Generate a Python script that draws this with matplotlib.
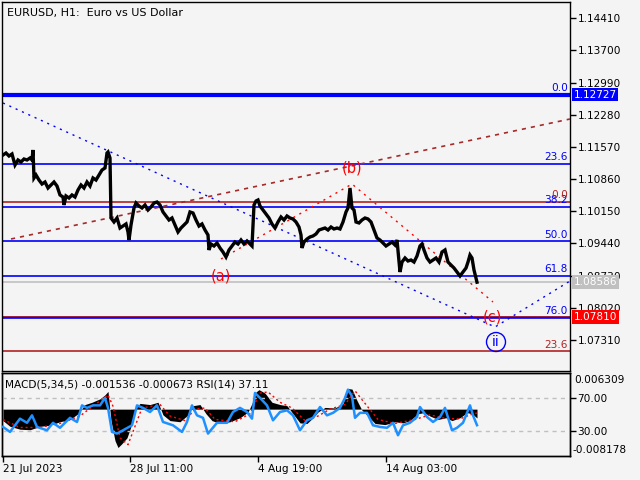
import matplotlib
matplotlib.use("Agg")
import matplotlib.pyplot as plt
import matplotlib.transforms as mtransforms

# ---------------- data ----------------
price_bars = [0, 3, 6, 9, 12, 15, 18, 21, 24, 27, 29, 30, 31, 33, 36, 39, 42, 45, 48, 51, 54, 57, 60, 61, 63, 66, 69, 72,
              75, 78, 81, 84, 87, 90, 93, 96, 99, 102, 104, 105, 107, 108, 111, 114, 117, 120, 123, 125, 126, 128, 131,
              133, 136, 139, 142, 145, 148, 151, 154, 157, 160, 163, 166, 169, 172, 175, 178, 181, 184, 187, 190, 193,
              196, 199, 202, 205, 206, 208, 211, 214, 217, 220, 223, 226, 229, 232, 235, 238, 241, 244, 247, 249, 251,
              253, 255, 257, 260, 263, 266, 269, 272, 275, 278, 281, 284, 287, 290, 293, 296, 298, 299, 301, 304, 307,
              310, 313, 316, 319, 322, 325, 328, 331, 334, 337, 340, 343, 345, 347, 349, 351, 353, 356, 359, 362, 365,
              368, 371, 374, 377, 380, 383, 386, 389, 392, 394, 396, 397, 399, 402, 405, 408, 411, 414, 417, 419, 421,
              424, 427, 430, 433, 436, 439, 442, 445, 448, 451, 454, 457, 460, 463, 465, 467, 469, 471, 474]
price_close = [1.11393, 1.11437, 1.11371, 1.11415, 1.11172, 1.11283, 1.11239, 1.11305, 1.11283, 1.11327, 1.11283,
               1.11504, 1.10886, 1.10952, 1.10841, 1.10753, 1.10797, 1.10665, 1.10731, 1.10797, 1.10709, 1.10511,
               1.10466, 1.10290, 1.10489, 1.10444, 1.10511, 1.10466, 1.10621, 1.10731, 1.10665, 1.10797, 1.10709,
               1.10886, 1.10841, 1.10952, 1.11062, 1.11106, 1.11437, 1.11459, 1.11327, 1.10003, 1.09915, 1.10003,
               1.09782, 1.09826, 1.09871, 1.09694, 1.09517, 1.09849, 1.10224, 1.10334, 1.10268, 1.10224, 1.10290,
               1.10180, 1.10246, 1.10334, 1.10356, 1.10290, 1.10136, 1.10047, 1.09959, 1.10003, 1.09849, 1.09694,
               1.09782, 1.09849, 1.09915, 1.10136, 1.10113, 1.09959, 1.09826, 1.09871, 1.09738, 1.09628, 1.09297,
               1.09429, 1.09385, 1.09451, 1.09341, 1.09252, 1.09142, 1.09297, 1.09385, 1.09473, 1.09429, 1.09517,
               1.09429, 1.09495, 1.09429, 1.09385, 1.10290, 1.10378, 1.10400, 1.10268, 1.10180, 1.10091, 1.10003,
               1.09871, 1.09782, 1.09915, 1.10025, 1.09959, 1.10047, 1.10003, 1.09981, 1.09915, 1.09804, 1.09628,
               1.09341, 1.09473, 1.09539, 1.09584, 1.09606, 1.09650, 1.09738, 1.09760, 1.09782, 1.09738, 1.09804,
               1.09760, 1.09782, 1.09760, 1.09915, 1.10136, 1.10224, 1.10665, 1.10224, 1.10180, 1.09915, 1.09893,
               1.09959, 1.10003, 1.09981, 1.09915, 1.09738, 1.09562, 1.09517, 1.09451, 1.09385, 1.09429, 1.09473,
               1.09407, 1.09517, 1.09031, 1.08811, 1.09031, 1.09120, 1.09054, 1.09076, 1.09031, 1.09164, 1.09385,
               1.09429, 1.09297, 1.09120, 1.09031, 1.09076, 1.09120, 1.09031, 1.09252, 1.09297, 1.09031, 1.08965,
               1.08899, 1.08811, 1.08723, 1.08811, 1.08899, 1.09031, 1.09186, 1.09120, 1.08855, 1.08586]

price_ticks = [1.14410, 1.13700, 1.12990, 1.12280, 1.11570, 1.10860, 1.10150, 1.09440, 1.08730, 1.08020, 1.07310]

blue_fib_names = ["0.0", "23.6", "38.2", "50.0", "61.8", "76.0"]
blue_fib_prices = [1.12727, 1.11200, 1.10255, 1.09492, 1.08729, 1.07810]
red_fib_names = ["0.0", "23.6"]
red_fib_prices = [1.10365, 1.07068]
red_level_price = 1.07810
current_price = 1.08586

wave_blue_bars = [0, 492, 567]
wave_blue_prices = [1.12541, 1.07597, 1.08612]
trend_bars = [8, 567]
trend_prices = [1.09539, 1.12188]
wave_red_bars = [218, 349, 490]
wave_red_prices = [1.09098, 1.10753, 1.08149]
wave_labels = ["(a)", "(b)", "(c)"]
wave_label_bars = [218, 349, 489]
wave_label_prices = [1.08723, 1.11106, 1.07818]
ii_bar, ii_price = 493, 1.07266

macd_bars = [0, 7, 17, 27, 37, 47, 57, 67, 75, 82, 89, 97, 102, 105, 108, 112, 115, 119, 124, 128, 132, 137, 147, 155,
             160, 167, 177, 185, 190, 197, 203, 209, 217, 227, 237, 245, 249, 253, 256, 262, 269, 277, 284, 290, 297,
             304, 310, 315, 322, 332, 340, 345, 349, 354, 359, 365, 372, 382, 392, 400, 407, 415, 421, 427, 435, 443,
             449, 457, 464, 469, 474]
macd_main = [-0.0020, -0.0030, -0.0035, -0.0036, -0.0030, -0.0028, -0.0022, -0.0018, -0.0008, 0.0008, 0.0012, 0.0018,
             0.0025, 0.0031, -0.0020, -0.0055, -0.0067, -0.0060, -0.0050, -0.0030, 0.0000, 0.0010, 0.0008, 0.0012,
             -0.0010, -0.0020, -0.0022, -0.0010, 0.0006, 0.0008, -0.0008, -0.0020, -0.0025, -0.0022, -0.0015, -0.0005,
             0.0010, 0.0030, 0.0034, 0.0028, 0.0012, 0.0008, 0.0006, -0.0008, -0.0024, -0.0025, -0.0015, -0.0005,
             0.0003, 0.0002, 0.0010, 0.0036, 0.0035, 0.0015, -0.0002, -0.0012, -0.0025, -0.0027, -0.0022, -0.0024,
             -0.0020, -0.0008, -0.0006, -0.0012, -0.0018, -0.0015, -0.0020, -0.0015, -0.0006, -0.0008, -0.001536]
signal_bars = [0, 17, 37, 57, 77, 92, 105, 110, 117, 125, 132, 139, 157, 167, 182, 192, 202, 212, 232, 247, 257, 265,
               277, 289, 302, 315, 327, 342, 352, 362, 375, 392, 412, 427, 442, 457, 467, 474]
signal_vals = [-0.0018, -0.0032, -0.0032, -0.0025, -0.0012, 0.0008, 0.0025, 0.0005, -0.0050, -0.0062, -0.0030,
               0.0002, 0.0008, -0.0012, -0.0020, 0.0000, 0.0002, -0.0018, -0.0022, -0.0008, 0.0028, 0.0030, 0.0012,
               0.0002, -0.0020, -0.0012, 0.0000, 0.0008, 0.0032, 0.0010, -0.0018, -0.0025, -0.0018, -0.0010, -0.0016,
               -0.0017, -0.0010, -0.000673]

rsi_bars = [0, 7, 17, 24, 29, 34, 44, 50, 57, 67, 74, 79, 84, 90, 97, 102, 105, 109, 114, 120, 129, 134, 140, 147, 154,
            160, 170, 179, 184, 189, 194, 200, 205, 214, 224, 230, 237, 244, 249, 252, 257, 264, 270, 277, 284, 290,
            297, 304, 310, 317, 324, 330, 337, 342, 345, 349, 352, 357, 364, 370, 377, 384, 390, 395, 400, 407, 414,
            417, 424, 430, 437, 442, 449, 454, 460, 467, 470, 474]
rsi_vals = [35, 29, 45, 40, 49, 35, 31, 40, 34, 46, 41, 61, 58, 61, 61, 70, 58, 29, 27, 31, 37, 61, 58, 53, 61, 41, 37,
            29, 41, 61, 49, 46, 27, 40, 40, 53, 58, 53, 45, 76, 70, 61, 43, 53, 55, 49, 31, 43, 46, 59, 49, 52,
            58, 70, 80, 72, 46, 52, 52, 37, 35, 34, 40, 25, 37, 40, 47, 59, 47, 41, 47, 58, 31, 34, 40, 61, 49, 37.11]

date_bars = [0, 127, 255, 383]
date_labels = ["21 Jul 2023", "28 Jul 11:00", "4 Aug 19:00", "14 Aug 03:00"]

# ---------------- style ----------------
BG = "#f4f4f4"
BLUE = "#0000ff"
DRED = "#b22222"
RED = "#ff0000"
FS = 7.6
plt.rcParams["font.family"] = ["DejaVu Sans"]

fig = plt.figure(figsize=(6.4, 4.8), dpi=100, facecolor=BG)
ax = fig.add_axes([2 / 640, 1 - 371 / 480, 568 / 640, 369 / 480], facecolor=BG)
axm = fig.add_axes([2 / 640, 1 - 456 / 480, 568 / 640, 83 / 480], facecolor=BG)

XMIN, XMAX = -1, 567
ax.set_xlim(XMIN, XMAX)
ax.set_ylim(1.06626, 1.14770)

# horizontal levels
for name, p in zip(blue_fib_names, blue_fib_prices):
    lw = 3.0 if name == "0.0" else 1.2
    ax.axhline(p, color=BLUE, lw=lw, zorder=2)
    ax.text(565, p + 0.0003, name, color=BLUE, fontsize=FS, ha="right", va="bottom", zorder=4)
for name, p in zip(red_fib_names, red_fib_prices):
    ax.axhline(p, color=DRED, lw=1.2, zorder=2)
    ax.text(565, p + 0.0003, name, color=DRED, fontsize=FS, ha="right", va="bottom", zorder=4)
ax.axhline(red_level_price, color=DRED, lw=1.2, zorder=2)
ax.axhline(current_price, color="#c0c0c0", lw=1.2, zorder=1.5)
ax.axhline(blue_fib_prices[-1] - 0.00012, color=BLUE, lw=1.2, zorder=2.1)

# wave / trend lines
ax.plot(wave_blue_bars, wave_blue_prices, color=BLUE, lw=1.0, dashes=(1.5, 3.5), zorder=3)
ax.plot(trend_bars, trend_prices, color="#a52a2a", lw=1.2, dashes=(2.5, 3), zorder=3)
ax.plot(wave_red_bars, wave_red_prices, color=RED, lw=1.0, dashes=(1.5, 3.5), zorder=3)

# price
ax.plot(price_bars, price_close, color="black", lw=2.4, zorder=5, solid_joinstyle="miter")

for lab, b, p in zip(wave_labels, wave_label_bars, wave_label_prices):
    ax.text(b, p, lab, color=RED, fontsize=10.5, ha="center", va="center", zorder=6)
ax.text(ii_bar, ii_price, "ii", color=BLUE, fontsize=10, ha="center", va="center", zorder=6,
        bbox=dict(boxstyle="circle,pad=0.18", fc="none", ec=BLUE, lw=1.0))

ax.text(0.008, 0.985, "EURUSD, H1:  Euro vs US Dollar", transform=ax.transAxes, fontsize=8,
        ha="left", va="top", color="black")

# right axis
ax.yaxis.tick_right()
ax.set_yticks(price_ticks)
ax.set_yticklabels(["%.5f" % t for t in price_ticks])
ax.tick_params(axis="y", direction="out", length=4, width=1, pad=1.5, labelsize=FS, colors="black")
ax.set_xticks([])
for s in ax.spines.values():
    s.set_color("black")
    s.set_linewidth(1.0)

trans = mtransforms.blended_transform_factory(ax.transAxes, ax.transData)
for p, fc in [(blue_fib_prices[0], BLUE), (current_price, "#c0c0c0"), (red_level_price, RED)]:
    ax.text(1.006, p, "%.5f" % p, transform=trans, fontsize=FS, color="white", ha="left", va="center",
            zorder=10, clip_on=False,
            bbox=dict(boxstyle="square,pad=0.18", fc=fc, ec="none"))

# ---------------- indicator panel ----------------
axm.set_xlim(XMIN, XMAX)
axm.set_ylim(-0.008178, 0.006309)
axm.fill_between(macd_bars, 0, macd_main, color="black", lw=0, zorder=2)
axm.plot(signal_bars, signal_vals, color=RED, lw=1.0, dashes=(1.5, 2), zorder=3)
axm.set_yticks([])

axr = axm.twinx()
axr.set_xlim(XMIN, XMAX)
axr.set_ylim(0, 100)
axr.axhline(70, color="#c0c0c0", lw=1.0, ls=(0, (3, 3)), zorder=1)
axr.axhline(30, color="#c0c0c0", lw=1.0, ls=(0, (3, 3)), zorder=1)
axr.plot(rsi_bars, rsi_vals, color="#1e90ff", lw=1.8, zorder=4)
axr.set_yticks([70, 30])
axr.set_yticklabels(["70.00", "30.00"])
axr.tick_params(axis="y", direction="out", length=4, width=1, pad=1.5, labelsize=FS, colors="black")
axm.text(1.008, (456 - 380) / 83, "0.006309", transform=axm.transAxes, fontsize=FS, ha="left", va="center")
axm.text(1.004, (456 - 450) / 83, "-0.008178", transform=axm.transAxes, fontsize=FS, ha="left", va="center")
axm.text(0.006, 0.86, "MACD(5,34,5) -0.001536 -0.000673 RSI(14) 37.11", transform=axm.transAxes,
         fontsize=FS, ha="left", va="center", zorder=6)

axm.set_xticks(date_bars)
axm.set_xticklabels(date_labels, ha="left")
axm.tick_params(axis="x", direction="out", length=4, width=1, pad=2, labelsize=FS, colors="black")
for a in (axm, axr):
    for s in a.spines.values():
        s.set_color("black")
        s.set_linewidth(1.0)

fig.savefig("out.png", dpi=100, facecolor=BG)
